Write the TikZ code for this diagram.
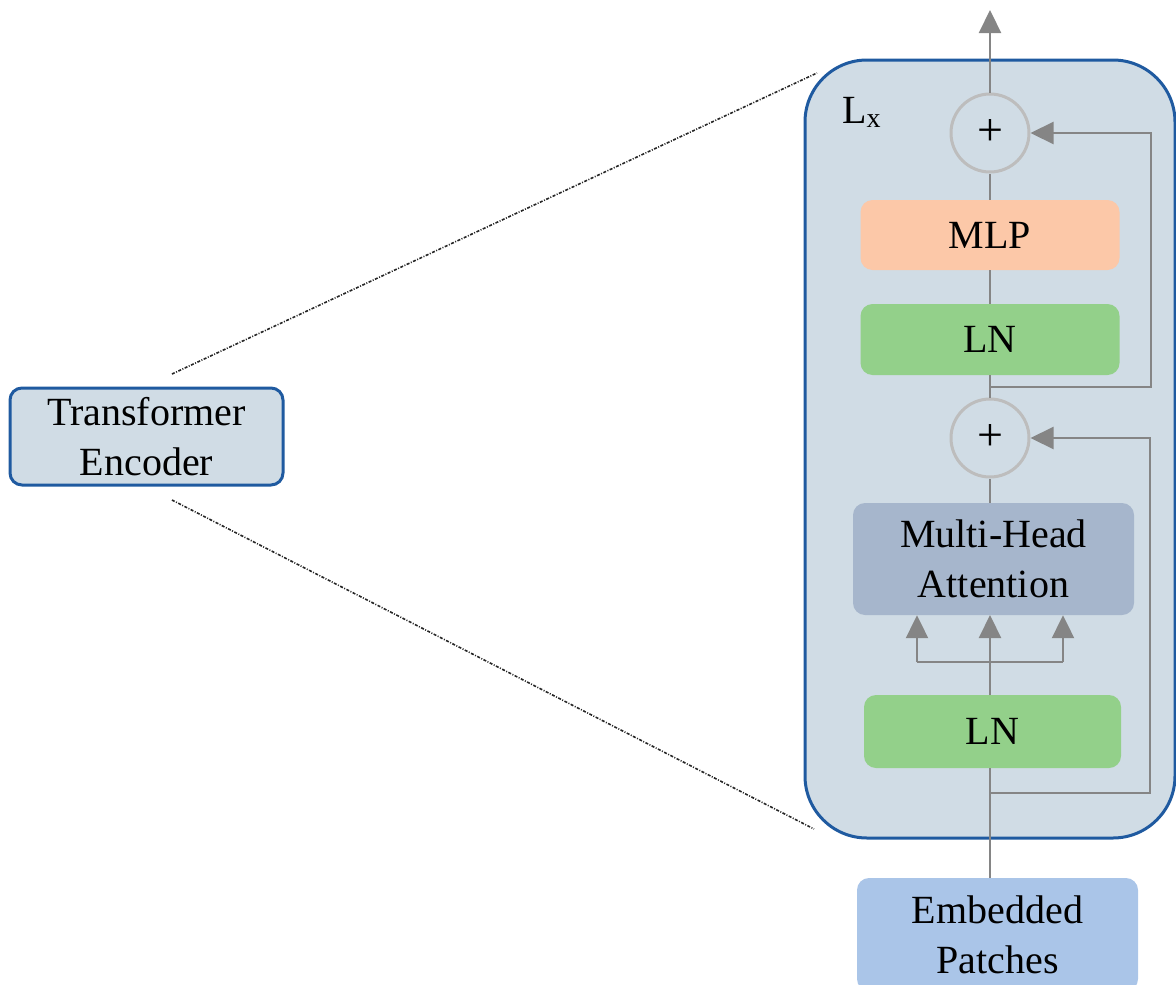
\documentclass[tikz,border=0pt]{standalone}
\usepackage{fontspec}
\setmainfont{Liberation Serif}
\usetikzlibrary{arrows.meta,calc}
\definecolor{bigfill}{HTML}{D0DCE5}
\definecolor{bigdraw}{HTML}{1F5AA0}
\definecolor{mlpfill}{HTML}{FCC8A8}
\definecolor{lnfill}{HTML}{93D08A}
\definecolor{mhafill}{HTML}{A6B6CC}
\definecolor{embfill}{HTML}{AAC5E8}
\definecolor{linegray}{HTML}{858585}
\definecolor{circgray}{HTML}{BDBDBD}
\tikzset{
  txt/.style={font=\fontsize{40}{50}\selectfont},
  blk/.style={txt, rounded corners=12pt, inner sep=0pt, align=center},
  addc/.style={font=\fontsize{46}{50}\selectfont, circle, draw=circgray, line width=3pt, minimum size=78pt, inner sep=0pt},
  conn/.style={draw=linegray, line width=2.2pt},
  arr/.style={conn, -{Triangle[length=23pt,width=22pt]}},
  zoomline/.style={draw=black!85, line width=1.6pt, dash pattern=on 3pt off 1.5pt on 1pt off 1.5pt},
}
\begin{document}
\begin{tikzpicture}[x=1pt,y=-1pt]
\useasboundingbox (0,0) rectangle (1176,985);
% big encoder block
\draw[fill=bigfill, draw=bigdraw, line width=3pt, rounded corners=62pt] (805,60) rectangle (1175,838);
\node[txt, anchor=base west, inner sep=0pt] (lx) at (842,123) {L\textsubscript{x}};
% blocks
\node[blk, fill=mlpfill, minimum width=259pt, minimum height=70pt] (mlp) at (990,235) {MLP};
\node[blk, fill=lnfill, minimum width=259pt, minimum height=71pt] (ln2) at (990,339.5) {LN};
\node[blk, fill=mhafill, minimum width=281pt, minimum height=112pt] (mha) at (993.5,559) {Multi-Head\\Attention};
\node[blk, fill=lnfill, minimum width=257pt, minimum height=73pt] (ln1) at (992.5,731.5) {LN};
\node[addc] (p2) at (990,133) {+};
\node[addc] (p1) at (990,438) {+};
\node[blk, fill=embfill, minimum width=281pt, minimum height=113pt] (emb) at (997.5,934.5) {Embedded\\Patches};
% transformer encoder
\node[blk, fill=bigfill, draw=bigdraw, line width=3pt, minimum width=273pt, minimum height=97pt] (te) at (146.5,436.5) {Transformer\\Encoder};
% zoom lines
\coordinate (z1) at (172,374);
\coordinate (z2) at (817,73);
\coordinate (z3) at (172,500);
\coordinate (z4) at (814,829);
\draw[zoomline] (z1) -- (z2);
\draw[zoomline] (z3) -- (z4);
% main flow
\coordinate (out) at (990,10);
\draw[arr] (p2) -- (out);
\draw[conn] (mlp.north -| p2) -- (p2.south);
\draw[conn] (ln2.north -| p2) -- (mlp.south -| p2);
\draw[conn] (p1.north) -- (ln2.south -| p1);
\draw[conn] (mha.north -| p1) -- (p1.south);
\coordinate (mid) at (990,695);
\draw[arr] (mid) -- (990,615);
\draw[conn] (emb.north -| mid) -- (ln1.south -| mid);
% qkv branches
\coordinate (bl) at (917,662);
\coordinate (brr) at (1063,662);
\draw[conn] (bl) -- (brr);
\draw[arr] (bl) -- (bl |- mha.south);
\draw[arr] (brr) -- (brr |- mha.south);
% skip connections
\coordinate (s2) at (990,387);
\coordinate (r2) at (1151,387);
\draw[arr] (s2) -- (r2) |- (p2.east);
\coordinate (s1) at (990,793);
\coordinate (r1) at (1150,793);
\draw[arr] (s1) -- (r1) |- (p1.east);
\end{tikzpicture}
\end{document}
